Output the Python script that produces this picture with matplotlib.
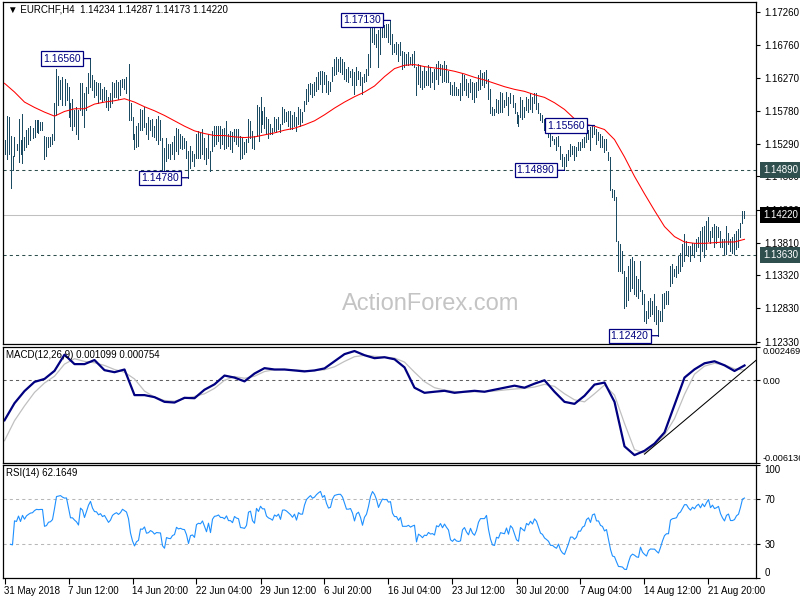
import numpy as np
import pandas as pd
import matplotlib
matplotlib.use("Agg")
import matplotlib.pyplot as plt
import matplotlib.transforms as mtransforms

plt.rcParams['font.family'] = ['Liberation Sans', 'DejaVu Sans']

# EURCHF H4 bars, 31 May - 23 Aug 2018, pips above 1.1000
highs = [
    534, 570, 568, 540, 511, 539, 529, 565, 534, 573,
    539, 550, 553, 555, 553, 564, 564, 564, 561, 561,
    541, 539, 539, 539, 544, 589, 640, 630, 624, 629,
    626, 619, 614, 589, 595, 579, 584, 579, 619, 619,
    604, 614, 634, 656, 631, 624, 621, 619, 619, 611,
    614, 609, 599, 604, 621, 619, 624, 621, 624, 626,
    625, 628, 648, 589, 569, 544, 556, 559, 581, 579,
    584, 559, 569, 564, 566, 556, 566, 570, 564, 538,
    523, 538, 528, 528, 531, 541, 553, 551, 543, 541,
    538, 533, 518, 526, 518, 513, 543, 548, 546, 551,
    538, 523, 543, 518, 548, 556, 556, 556, 556, 551,
    553, 563, 543, 548, 546, 551, 551, 551, 541, 538,
    531, 536, 566, 563, 548, 541, 586, 583, 599, 578,
    583, 568, 566, 558, 553, 568, 566, 569, 558, 583,
    581, 576, 578, 578, 571, 576, 568, 583, 581, 576,
    593, 611, 618, 619, 618, 621, 628, 636, 638, 638,
    636, 631, 623, 621, 643, 656, 658, 656, 658, 656,
    651, 641, 643, 638, 641, 636, 643, 638, 636, 628,
    633, 641, 663, 706, 708, 703, 693, 698, 706, 708,
    706, 708, 707, 713, 693, 678, 681, 678, 681, 668,
    666, 663, 666, 658, 663, 668, 643, 648, 646, 638,
    643, 638, 646, 643, 636, 641, 648, 653, 648, 646,
    653, 646, 638, 621, 616, 621, 613, 611, 619, 634,
    631, 626, 619, 626, 621, 619, 621, 631, 639, 634,
    636, 639, 626, 611, 584, 581, 596, 594, 606, 604,
    594, 606, 599, 604, 601, 589, 576, 571, 599, 594,
    584, 599, 596, 604, 599, 604, 604, 589, 574, 571,
    566, 561, 559, 549, 541, 536, 539, 541, 526, 514,
    509, 514, 519, 529, 526, 526, 524, 531, 531, 536,
    539, 549, 549, 554, 556, 554, 551, 546, 544, 541,
    536, 536, 516, 509, 461, 459, 449, 384, 379, 369,
    339, 329, 346, 356, 359, 354, 331, 326, 354, 311,
    304, 279, 294, 299, 294, 304, 286, 281, 279, 304,
    306, 309, 309, 346, 349, 341, 346, 361, 366, 379,
    394, 384, 376, 376, 381, 381, 386, 389, 399, 404,
    406, 414, 419, 399, 404, 409, 406, 404, 399, 386,
    386, 406, 396, 386, 389, 394, 399, 401, 411, 429,
    428.7,
]
lows = [
    514, 506, 514, 462, 489, 511, 519, 501, 514, 500,
    519, 524, 529, 534, 538, 539, 546, 545, 549, 549,
    506, 511, 524, 526, 529, 534, 571, 586, 596, 586,
    586, 594, 569, 555, 549, 556, 544, 536, 579, 571,
    554, 579, 604, 614, 609, 599, 601, 589, 596, 591,
    594, 584, 579, 584, 589, 599, 599, 596, 601, 614,
    611, 604, 564, 564, 536, 521, 524, 526, 549, 549,
    554, 544, 536, 549, 541, 539, 534, 529, 534, 488,
    483, 503, 508, 506, 513, 506, 518, 513, 523, 521,
    523, 508, 478, 493, 503, 496, 508, 508, 508, 513,
    506, 498, 508, 488, 518, 526, 528, 533, 523, 528,
    521, 523, 526, 521, 516, 533, 528, 526, 506, 508,
    513, 516, 531, 538, 523, 521, 541, 533, 546, 558,
    553, 543, 538, 543, 543, 548, 546, 551, 546, 558,
    561, 563, 556, 551, 551, 556, 548, 558, 556, 561,
    578, 588, 593, 603, 598, 601, 608, 611, 618, 606,
    618, 606, 603, 608, 623, 631, 633, 638, 636, 633,
    626, 623, 621, 628, 616, 603, 616, 626, 616, 603,
    621, 623, 631, 643, 681, 678, 673, 643, 663, 688,
    688, 688, 681, 678, 663, 666, 663, 653, 661, 641,
    643, 646, 646, 648, 646, 643, 601, 618, 613, 611,
    613, 616, 616, 613, 621, 611, 626, 618, 631, 621,
    623, 621, 621, 603, 601, 601, 601, 601, 594, 601,
    609, 601, 599, 606, 596, 591, 599, 609, 611, 616,
    614, 619, 596, 574, 571, 571, 576, 574, 576, 576,
    584, 586, 571, 589, 584, 574, 559, 556, 569, 566,
    569, 579, 576, 581, 576, 589, 581, 574, 564, 561,
    549, 546, 539, 526, 534, 529, 519, 526, 506, 496,
    489, 496, 504, 511, 514, 504, 511, 519, 519, 524,
    524, 531, 536, 519, 539, 544, 529, 534, 524, 524,
    516, 519, 504, 459, 449, 444, 384, 339, 339, 336,
    284, 286, 296, 309, 314, 304, 301, 299, 309, 289,
    264, 261, 269, 271, 274, 264, 259, 242, 264, 264,
    284, 289, 289, 316, 321, 331, 329, 336, 339, 346,
    354, 364, 361, 354, 364, 359, 369, 374, 354, 369,
    359, 371, 384, 381, 389, 374, 381, 389, 374, 374,
    364, 364, 379, 369, 366, 364, 371, 374, 389, 411,
    417.3,
]

# red moving average, read every 5th bar (pips above 1.1000)
ma_every = 5
ma_pips = [
    619, 606, 591, 583, 576, 570, 577, 581, 581, 588,
    591, 593, 596, 591, 584, 578, 571, 563, 555, 548,
    544, 541, 541, 539, 538, 539, 542, 545, 549, 552,
    557, 563, 572, 582, 591, 599, 606, 615, 629, 641,
    646, 647, 644, 642, 640, 637, 633, 628, 624, 619,
    614, 610, 607, 602, 598, 590, 580, 566, 558, 555,
    550, 535, 509, 480, 454, 429, 405, 390, 382, 380,
    380, 381, 382, 382, 386,
]

# MACD(12,26,9) main and signal, every 5th bar, units of 0.001
macd_main = [
    -2.97, -1.7, -0.8, -0.12, 0.1, 0.7, 1.9, 1.2, 1.2, 1.5,
    0.75, 0.6, 0.8, -1.1, -1.1, -1.25, -1.6, -1.65, -1.3, -1.33,
    -0.7, -0.3, 0.35, 0.2, -0.08, 0.5, 0.9, 0.8, 0.8, 0.73,
    0.66, 0.73, 0.88, 1.41, 1.94, 2.17, 1.86, 1.64, 1.71, 1.56,
    0.96, -0.55, -0.93, -0.85, -0.78, -0.93, -0.85, -0.78, -0.85, -0.7,
    -0.55, -0.4, -0.55, -0.25, 0.0, -0.85, -1.6, -1.75, -1.15, -0.32,
    -0.17, -1.6, -4.9, -5.55, -5.23, -4.7, -3.87, -1.83, 0.2, 0.81,
    1.26, 1.41, 1.11, 0.69, 1.099,
]
macd_signal = [
    -4.48, -3.0, -1.9, -0.9, -0.2, 0.3, 1.2, 1.6, 1.4, 1.3,
    1.1, 0.8, 0.6, 0.1, -0.8, -1.25, -1.5, -1.55, -1.35, -1.2,
    -1.0, -0.6, 0.0, 0.28, 0.15, 0.3, 0.65, 0.78, 0.8, 0.77,
    0.72, 0.72, 0.78, 1.0, 1.4, 1.75, 1.85, 1.78, 1.72, 1.65,
    1.35, 0.6, -0.1, -0.55, -0.72, -0.83, -0.88, -0.85, -0.85, -0.8,
    -0.72, -0.65, -0.6, -0.5, -0.3, -0.45, -1.0, -1.45, -1.6, -1.0,
    -0.35, -1.1, -3.2, -5.15, -5.4, -4.8, -4.05, -2.85, -1.05, 0.45,
    1.05, 1.26, 1.15, 0.85, 0.754,
]

price_ticks = [1.17260, 1.16760, 1.16270, 1.15780, 1.15290, 1.14800,
               1.14300, 1.13810, 1.13320, 1.12830, 1.12330]
date_every = 32
date_labels = ['31 May 2018', '7 Jun 12:00', '14 Jun 20:00', '22 Jun 04:00',
               '29 Jun 12:00', '6 Jul 20:00', '16 Jul 04:00', '23 Jul 12:00',
               '30 Jul 20:00', '7 Aug 04:00', '14 Aug 12:00', '21 Aug 20:00']

swing_bars = [43, 92, 193, 295, 280, 327]
swing_prices = [1.16560, 1.14780, 1.17130, 1.15560, 1.14890, 1.12420]
levels = [1.14890, 1.13630]
last_price = 1.14220
trend_bars = [320, 376]
trend_vals = [-0.00548, 0.00151]

BAR = '#1b4b63'
NAVY = '#000080'
SLATE = '#2f4f4f'

hi = 1.1 + np.array(highs) / 1e4
lo = 1.1 + np.array(lows) / 1e4
x = np.arange(len(hi))
close = (hi + lo) / 2
ma_x = np.arange(len(ma_pips)) * ma_every
ma = 1.1 + np.array(ma_pips) / 1e4
m_x = np.arange(len(macd_main)) * 5
main = np.array(macd_main) / 1e3
sig = np.array(macd_signal) / 1e3

# RSI(14): expanding mean for the first 14 changes, then Wilder smoothing
delta = np.diff(close)
gains = np.clip(delta, 0, None)
losses = np.clip(-delta, 0, None)
avg_up = np.zeros(len(delta))
avg_dn = np.zeros(len(delta))
for i in range(len(delta)):
    if i < 14:
        avg_up[i] = gains[:i + 1].mean()
        avg_dn[i] = losses[:i + 1].mean()
    else:
        avg_up[i] = (avg_up[i - 1] * 13 + gains[i]) / 14
        avg_dn[i] = (avg_dn[i - 1] * 13 + losses[i]) / 14
rsi = pd.Series(100 - 100 / (1 + avg_up / np.where(avg_dn > 0, avg_dn, np.nan)))
rsi_x = x[1:]
ok = (avg_up > 0) & (avg_dn > 0)
first = int(np.argmax(ok))

fig = plt.figure(figsize=(8, 6), dpi=100)
W, H = 800.0, 600.0


def panel(top, bottom):
    return fig.add_axes([3 / W, 1 - bottom / H, 753 / W, (bottom - top) / H])


ax = panel(2, 344)
axm = panel(347, 463)
axr = panel(465, 578)

for a in (ax, axm, axr):
    a.set_xlim(-0.75, 375.75)
    a.yaxis.tick_right()
    a.tick_params(axis='y', direction='out', length=3, width=0.8, pad=3,
                  labelsize=7, colors='black')
    for s in a.spines.values():
        s.set_linewidth(0.9)
        s.set_color('black')
    a.set_facecolor('white')

# price panel
ax.set_ylim(1.12296, 1.17405)
ax.set_xticks([])
ax.set_yticks(price_ticks)
ax.set_yticklabels([f'{p:.5f}' for p in price_ticks])
ax.text(0.568, 0.099, 'ActionForex.com', transform=ax.transAxes, fontsize=17,
        color='#c4c4c4', ha='center', va='baseline', zorder=0)
ax.vlines(x, lo, hi, color=BAR, lw=0.7, antialiased=False, zorder=3)
ax.plot(ma_x, ma, color='#ff0000', lw=0.75, zorder=4)
for lv in levels:
    ax.axhline(lv, color=SLATE, lw=0.75, dashes=(3, 3), zorder=2)
ax.axhline(last_price, color='#c0c0c0', lw=0.75, zorder=2)

for b, p in zip(swing_bars, swing_prices):
    ax.annotate(f'{p:.5f}', xy=(b, p), xytext=(-10, 0), textcoords='offset pixels',
                ha='right', va='center', fontsize=7.5, color=NAVY, zorder=6,
                bbox=dict(boxstyle='square,pad=0.2', fc='white', ec=NAVY, lw=0.9),
                arrowprops=dict(arrowstyle='-', color=NAVY, lw=0.9,
                                shrinkA=0, shrinkB=0))

tr = mtransforms.blended_transform_factory(ax.transAxes, ax.transData)
for lv in levels:
    ax.text(1.0093, lv, f'{lv:.5f}', transform=tr, ha='left', va='center',
            fontsize=7, color='white', zorder=10, clip_on=False,
            bbox=dict(boxstyle='square,pad=0.3', fc=SLATE, ec='none'))
ax.text(1.0093, last_price, f'{last_price:.5f}', transform=tr, ha='left',
        va='center', fontsize=7, color='white', zorder=10, clip_on=False,
        bbox=dict(boxstyle='square,pad=0.3', fc='black', ec='none'))

# MACD panel
axm.set_ylim(-0.006136, 0.002469)
axm.set_xticks([])
axm.set_yticks([0.002469, 0.0, -0.006136])
axm.set_yticklabels(['0.002469', '0.00', '-0.006136'])
axm.tick_params(axis='y', labelsize=6.6, pad=2)
tl = axm.get_yticklabels()
tl[0].set_va('top')
tl[2].set_va('bottom')
axm.axhline(0, color='#606060', lw=0.75, dashes=(3, 3))
axm.plot(m_x, sig, color='#c0c0c0', lw=0.9)
axm.plot(m_x, main, color=NAVY, lw=1.6)
axm.plot(trend_bars, trend_vals, color='black', lw=0.75)

# RSI panel
axr.set_ylim(0, 100)
axr.set_yticks([100, 70, 30, 0])
tl = axr.get_yticklabels()
tl[0].set_va('top')
tl[3].set_va('bottom')
for lv in (70, 30):
    axr.axhline(lv, color='#b8b8b8', lw=0.75, dashes=(3, 3))
axr.plot(rsi_x[first:], rsi[first:], color='#1e90ff', lw=0.8)
axr.set_xticks(np.arange(len(date_labels)) * date_every)
axr.set_xticklabels(date_labels, ha='left')
axr.tick_params(axis='x', direction='out', length=4, width=0.8, pad=2,
                labelsize=7)

fig.text(8 / W, 1 - 5 / H, '\u25bc EURCHF,H4  1.14234 1.14287 1.14173 1.14220',
         fontsize=7, va='top', ha='left')
fig.text(6 / W, 1 - 350 / H, 'MACD(12,26,9) 0.001099 0.000754',
         fontsize=7, va='top', ha='left')
fig.text(6 / W, 1 - 468 / H, 'RSI(14) 62.1649', fontsize=7, va='top', ha='left')

fig.savefig('out.png', dpi=100)
